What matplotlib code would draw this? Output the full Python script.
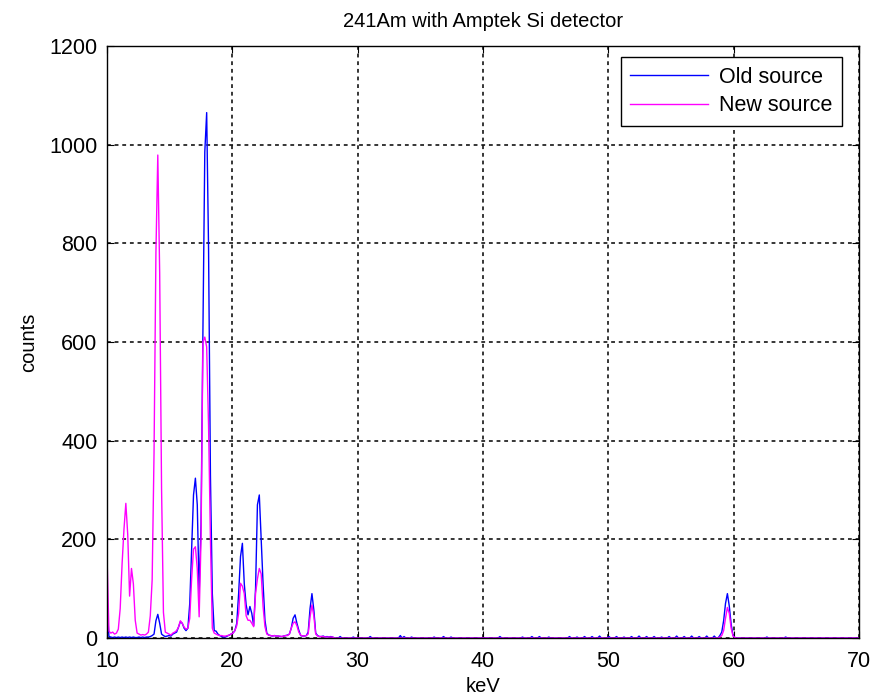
import matplotlib
matplotlib.use('Agg')
import matplotlib.pyplot as plt
import numpy as np

# Channel calibration: 10 keV start, 0.15 keV per channel
e_start = 10.0
e_step = 0.15
n_channels = 401

# 10 - 28 keV region (121 channels), old source
old_low = [70, 3, 2, 1, 2, 1, 2, 1, 2, 1, 2, 1, 2, 1, 2, 1, 1, 2, 1, 2,
           1, 2, 2, 3, 5, 8, 35, 48, 30, 8, 5, 3, 4, 5, 4, 8, 10, 12, 22, 33,
           30, 20, 15, 20, 70, 180, 290, 324, 270, 90, 230, 620, 985, 1065, 790, 330, 90, 15, 14, 8,
           5, 3, 2, 2, 4, 6, 8, 10, 15, 30, 90, 165, 192, 110, 67, 47, 64, 50, 25, 100,
           270, 290, 200, 110, 36, 10, 6, 5, 4, 5, 4, 4, 3, 3, 4, 5, 6, 8, 20, 40,
           47, 30, 16, 5, 4, 4, 5, 12, 60, 90, 57, 10, 5, 3, 3, 4, 2, 3, 2, 3,
           2]
new_low = [165, 14, 10, 12, 8, 10, 18, 60, 150, 220, 273, 210, 85, 141, 110, 36, 10, 8, 6, 7,
           6, 8, 12, 45, 118, 375, 780, 979, 740, 303, 52, 12, 10, 8, 6, 10, 12, 15, 22, 35,
           30, 22, 18, 20, 40, 120, 180, 185, 140, 43, 200, 600, 610, 590, 430, 200, 20, 10, 8, 6,
           5, 5, 4, 4, 5, 6, 8, 10, 15, 25, 50, 111, 105, 90, 45, 36, 36, 30, 23, 90,
           120, 141, 130, 64, 23, 8, 6, 5, 4, 5, 4, 4, 4, 3, 4, 5, 5, 8, 20, 30,
           33, 25, 12, 6, 4, 4, 5, 8, 43, 67, 45, 8, 4, 3, 3, 3, 2, 2, 2, 2,
           2]

# 58.9 - 60.1 keV region (Am-241 gamma line)
peak_start = 58.9
old_peak = [5, 12, 35, 70, 90, 65, 28, 5, 1]
new_peak = [2, 5, 15, 40, 62, 50, 20, 4, 1]

# small background counts of the old source between 28 and 70 keV
old_blip_kev = [28.6, 29.6, 31.0, 33.4, 33.7, 34.3, 36.1, 36.8, 37.4, 41.3,
                43.1, 43.9, 44.5, 45.2, 46.9, 47.5, 48.1, 48.7, 49.3, 50.0,
                50.6, 51.2, 51.8, 52.4, 53.0, 53.6, 54.2, 54.8, 55.4, 56.0,
                56.6, 57.2, 57.8, 58.4, 62.6, 64.1]
old_blip_counts = [3, 2, 3, 5, 3, 2, 2, 3, 2, 3,
                   2, 3, 3, 2, 3, 2, 3, 3, 4, 3,
                   3, 2, 3, 4, 3, 3, 2, 3, 4, 3,
                   4, 3, 4, 4, 2, 2]


def build_spectrum(low, peak, blip_kev=(), blip_counts=()):
    counts = np.zeros(n_channels)
    counts[:len(low)] = low
    i0 = int(round((peak_start - e_start) / e_step))
    counts[i0:i0 + len(peak)] = peak
    for e, c in zip(blip_kev, blip_counts):
        counts[int(round((e - e_start) / e_step))] = c
    return counts


kev = e_start + e_step * np.arange(n_channels)
old_counts = build_spectrum(old_low, old_peak, old_blip_kev, old_blip_counts)
new_counts = build_spectrum(new_low, new_peak)

plt.rcParams['font.family'] = ['Liberation Sans', 'DejaVu Sans']

fig = plt.figure(figsize=(8.81, 6.97), dpi=100)
ax = fig.add_axes([0.1215, 0.0846, 0.8535, 0.8494])

ax.plot(kev, old_counts, color='#0000ff', lw=1.0, label='Old source')
ax.plot(kev, new_counts, color='#ff00ff', lw=1.0, label='New source')

ax.set_xlim(10, 70)
ax.set_ylim(0, 1200)
ax.set_xticks(np.arange(10, 71, 10))
ax.set_yticks(np.arange(0, 1201, 200))
ax.grid(True, color='black', linestyle=(0, (2.5, 2.5)), linewidth=1.1)
ax.tick_params(direction='in', top=True, right=True, labelsize=15.5, length=5)
ax.tick_params(axis='x', pad=9)
ax.tick_params(axis='y', pad=7)
for s in ax.spines.values():
    s.set_linewidth(1.0)

ax.set_title('241Am with Amptek Si detector', fontsize=14.5, pad=14)
ax.set_xlabel('keV', fontsize=14.5, labelpad=4)
ax.set_ylabel('counts', fontsize=14.5, labelpad=8)

leg = ax.legend(loc='upper right', fontsize=15.5, fancybox=False, framealpha=1,
                edgecolor='black', handlelength=3.6, handletextpad=0.5,
                borderpad=0.45, labelspacing=0.35, borderaxespad=0,
                bbox_to_anchor=(0.977, 0.981))
leg.get_frame().set_linewidth(1.0)

plt.savefig('out.png', dpi=100)
